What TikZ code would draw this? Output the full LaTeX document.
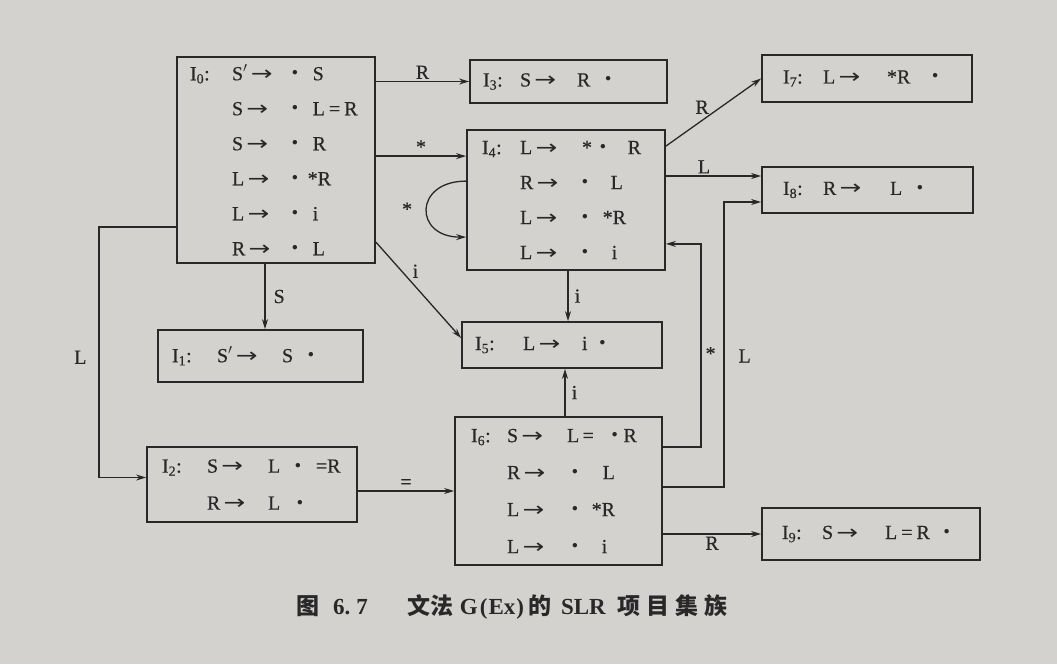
\documentclass[tikz,border=0pt]{standalone}
\usepackage{fontspec}
\setmainfont{Liberation Serif}
\newfontfamily\itemfont{Liberation Serif}[FakeBold=0.4]
\newfontfamily\symfont{DejaVu Sans}
\newfontfamily\cjk{Noto Sans CJK SC}
\usepackage{graphicx}
\usepackage{tikz}
\usetikzlibrary{arrows.meta, calc}

\definecolor{papier}{RGB}{212,210,206}
\definecolor{encre}{RGB}{40,40,42}

% item set helpers
\newcommand{\lab}[2][40pt]{\makebox[#1][l]{I\textsubscript{#2}:}}
\newcommand{\nolab}[1][40pt]{\hspace*{#1}}
\newcommand{\gives}{\scalebox{1.3}[1]{\symfont →}}
\newcommand{\lhs}[2][60pt]{\makebox[#1][l]{#2\,\gives}}
\newcommand{\itemdot}{\raisebox{4.5pt}{\scalebox{0.55}{$\bullet$}}}

\begin{document}
\begin{tikzpicture}[x=1pt, y=-1pt,
  box/.style={draw=encre, line width=1.8pt, inner xsep=14pt, inner ysep=0pt,
    align=left, text=encre, font=\itemfont\fontsize{20}{35}\selectfont},
  arr/.style={draw=encre, line width=1.3pt, -{Stealth[length=10pt, width=6pt]}},
  lbl/.style={text=encre, font=\itemfont\fontsize{20}{24}\selectfont, inner sep=2pt},
]
\path[fill=papier, use as bounding box] (0,0) rectangle (1057,664);

% item sets
\node[box, minimum width=198, minimum height=206, inner xsep=13pt, text width=172] (I0) at (276,160)
  {\lab[42pt]{0}\lhs{S$'$}\itemdot\hspace{15pt}S\\
   \nolab[42pt]\lhs{S}\itemdot\hspace{15pt}L\hspace{4pt}=\hspace{4pt}R\\
   \nolab[42pt]\lhs{S}\itemdot\hspace{15pt}R\\
   \nolab[42pt]\lhs{L}\itemdot\hspace{10pt}*R\\
   \nolab[42pt]\lhs{L}\itemdot\hspace{15pt}i\\
   \nolab[42pt]\lhs{R}\itemdot\hspace{15pt}L};
\node[box, minimum width=205, minimum height=52, text width=177] (I1) at (260.5,356)
  {\lab[45pt]{1}\lhs[65pt]{S$'$}S\hspace{15pt}\itemdot};
\node[box, minimum width=210, minimum height=75, inner xsep=15pt, text width=180,
  font=\itemfont\fontsize{20}{37}\selectfont] (I2) at (252,484.5)
  {\lab[45pt]{2}\lhs[61pt]{S}L\hspace{15pt}\itemdot\hspace{15pt}=R\\
   \nolab[45pt]\lhs[61pt]{R}L\hspace{17pt}\itemdot};
\node[box, minimum width=197, minimum height=43, inner xsep=13pt, text width=171] (I3) at (568.5,81.5)
  {\lab[37pt]{3}\lhs[57pt]{S}R\hspace{15pt}\itemdot};
\node[box, minimum width=198, minimum height=140, inner xsep=15pt, text width=168] (I4) at (566,200)
  {\lab[38pt]{4}\lhs[62pt]{L}*\hspace{8pt}\itemdot\hspace{22pt}R\\
   \nolab[38pt]\lhs[62pt]{R}\itemdot\hspace{23pt}L\\
   \nolab[38pt]\lhs[62pt]{L}\itemdot\hspace{15pt}*R\\
   \nolab[38pt]\lhs[62pt]{L}\itemdot\hspace{24pt}i};
\node[box, minimum width=200, minimum height=46, inner xsep=13pt, text width=174] (I5) at (562,345)
  {\lab[48pt]{5}\lhs[59pt]{L}i\hspace{12pt}\itemdot};
\node[box, minimum width=207, minimum height=148, inner xsep=16pt, text width=175,
  font=\itemfont\fontsize{20}{37}\selectfont] (I6) at (558.5,491)
  {\lab[36pt]{6}\lhs{S}L\,=\hspace{18pt}\itemdot\hspace{6pt}R\\
   \nolab[36pt]\lhs{R}\hspace{5pt}\itemdot\hspace{25pt}L\\
   \nolab[36pt]\lhs{L}\hspace{5pt}\itemdot\hspace{14pt}*R\\
   \nolab[36pt]\lhs{L}\hspace{5pt}\itemdot\hspace{24pt}i};
\node[box, minimum width=210, minimum height=47, inner xsep=21pt, text width=168] (I7) at (867,78.5)
  {\lab{7}\lhs[64pt]{L}*R\hspace{22pt}\itemdot};
\node[box, minimum width=211, minimum height=46, inner xsep=21pt, text width=169] (I8) at (867.5,190)
  {\lab{8}\lhs[67pt]{R}L\hspace{15pt}\itemdot};
\node[box, minimum width=218, minimum height=52, inner xsep=20pt, text width=178] (I9) at (871,534)
  {\lab[40pt]{9}\lhs[63pt]{S}L\hspace{4pt}=\hspace{4pt}R\hspace{14pt}\itemdot};

% transitions
\draw[arr] (I0.east |- I3.west) -- node[lbl, above] {R} (I3.west);
\coordinate (in4) at ([yshift=-27pt]I4.north west);
\draw[arr] (I0.east |- in4) -- node[lbl, above] {*} (in4);
\draw[arr] ([yshift=-52pt]I4.north west) to[out=180, in=180, looseness=2.4]
  node[lbl, left=12pt] {*} ([yshift=-108pt]I4.north west);
\draw[arr] ([yshift=-186pt]I0.north east) -- node[lbl, pos=0.4, above right] {i}
  ([yshift=7pt]I5.west);
\draw[arr] ([xshift=-11pt]I0.south) -- node[lbl, right=6pt] {S}
  ([xshift=-11pt]I0.south |- I1.north);
\draw[arr] ([yshift=-171pt]I0.north west) -- ++(-77,0)
  |- node[lbl, pos=0.26, left=10pt] {L} ([yshift=7pt]I2.west);
\draw[arr] ([yshift=-17pt]I4.north east) -- node[lbl, pos=0.38, above=4pt] {R} (I7.west);
\coordinate (in8) at ([yshift=14pt]I8.west);
\draw[arr] (I4.east |- in8) -- node[lbl, pos=0.4, above] {L} (in8);
\draw[arr] ([xshift=2pt]I4.south) -- node[lbl, right=4pt] {i}
  ([xshift=2pt]I4.south |- I5.north);
\draw[arr] ([xshift=6.5pt]I6.north) -- node[lbl, right=4pt] {i}
  ([xshift=6.5pt]I6.north |- I5.south);
\draw[arr] ([yshift=-31pt]I6.north east) -- ++(38,0)
  |- node[lbl, pos=0.23, right=2pt] {*} ([yshift=27pt]I4.south east);
\draw[arr] ([yshift=-71pt]I6.north east) -- ++(61,0)
  |- node[lbl, pos=0.23, right=12pt] {L} ([yshift=-12pt]I8.west);
\draw[arr] (I6.east |- I9.west) -- node[lbl, below] {R} (I9.west);
\draw[arr] (I2.east |- I6.west) -- node[lbl, above] {=} (I6.west);

% caption
\node[text=encre, font=\fontsize{23}{27}\selectfont\bfseries] (cap) at (512,607)
  {{\cjk 图}\hspace{14pt}6.\hspace{6pt}7\hspace{40pt}{\cjk 文法}\hspace{6pt}G\hspace{2pt}(\hspace{1pt}Ex\hspace{1pt})\hspace{4pt}{\cjk 的}\hspace{10pt}SLR\hspace{12pt}{\cjk 项\hspace{6pt}目\hspace{6pt}集\hspace{6pt}族}};
\end{tikzpicture}
\end{document}
